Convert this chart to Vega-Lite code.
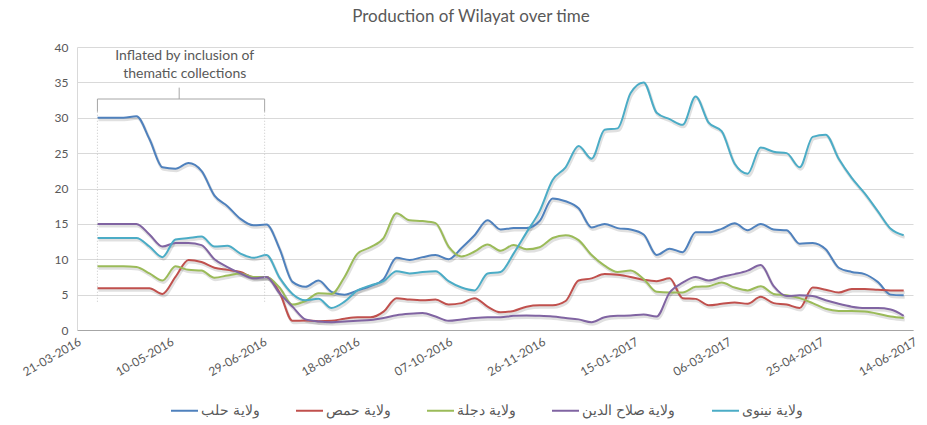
{
  "$schema": "https://vega.github.io/schema/vega-lite/v6.json",
  "width": 836,
  "height": 283,
  "autosize": {"type": "none"},
  "padding": {"left": 77, "top": 47, "right": 14, "bottom": 95},
  "background": "white",
  "title": {
    "text": "Production of Wilayat over time",
    "fontSize": 17,
    "fontWeight": "normal",
    "color": "#595959",
    "font": "Lato",
    "anchor": "middle",
    "frame": "group",
    "offset": 15,
    "dx": -24
  },
  "datasets": {
    "wide": [
      {"d": "2016-04-01", "a": 30, "b": 5.9, "c": 9.0, "p": 15, "n": 13},
      {"d": "2016-04-08", "a": 30, "b": 5.9, "c": 9.0, "p": 15, "n": 13},
      {"d": "2016-04-15", "a": 30, "b": 5.9, "c": 9.0, "p": 15, "n": 13},
      {"d": "2016-04-22", "a": 30.2, "b": 5.9, "c": 8.9, "p": 15, "n": 13},
      {"d": "2016-04-29", "a": 27, "b": 5.9, "c": 8.0, "p": 13.5, "n": 11.8},
      {"d": "2016-05-06", "a": 23, "b": 5.1, "c": 7.0, "p": 11.8, "n": 10.3},
      {"d": "2016-05-13", "a": 22.8, "b": 7.5, "c": 9.0, "p": 12.3, "n": 12.8},
      {"d": "2016-05-20", "a": 23.6, "b": 9.9, "c": 8.5, "p": 12.3, "n": 13.0},
      {"d": "2016-05-27", "a": 22.5, "b": 9.6, "c": 8.4, "p": 12.0, "n": 13.2},
      {"d": "2016-06-03", "a": 19, "b": 8.8, "c": 7.4, "p": 10.0, "n": 11.8},
      {"d": "2016-06-10", "a": 17.5, "b": 8.5, "c": 7.7, "p": 8.9, "n": 11.9},
      {"d": "2016-06-17", "a": 15.7, "b": 8.2, "c": 8.0, "p": 8.0, "n": 10.8},
      {"d": "2016-06-24", "a": 14.8, "b": 7.5, "c": 7.5, "p": 7.3, "n": 10.2},
      {"d": "2016-07-01", "a": 14.9, "b": 7.5, "c": 7.5, "p": 7.5, "n": 10.6},
      {"d": "2016-07-08", "a": 11.5, "b": 5.3, "c": 6.0, "p": 5.2, "n": 7.4},
      {"d": "2016-07-15", "a": 6.8, "b": 1.3, "c": 3.6, "p": 3.3, "n": 5.1},
      {"d": "2016-07-22", "a": 6.1, "b": 1.35, "c": 4.1, "p": 1.5, "n": 4.2},
      {"d": "2016-07-29", "a": 7.0, "b": 1.25, "c": 5.2, "p": 1.2, "n": 4.4},
      {"d": "2016-08-05", "a": 5.4, "b": 1.3, "c": 5.1, "p": 1.1, "n": 3.1},
      {"d": "2016-08-12", "a": 5.0, "b": 1.6, "c": 7.5, "p": 1.2, "n": 4.0},
      {"d": "2016-08-19", "a": 5.6, "b": 1.8, "c": 10.8, "p": 1.3, "n": 5.6},
      {"d": "2016-08-26", "a": 6.2, "b": 1.8, "c": 11.7, "p": 1.4, "n": 6.3},
      {"d": "2016-09-02", "a": 7.2, "b": 2.6, "c": 13.0, "p": 1.7, "n": 6.9},
      {"d": "2016-09-09", "a": 10.2, "b": 4.5, "c": 16.5, "p": 2.1, "n": 8.3},
      {"d": "2016-09-16", "a": 9.9, "b": 4.3, "c": 15.5, "p": 2.3, "n": 8.0},
      {"d": "2016-09-23", "a": 10.3, "b": 4.2, "c": 15.4, "p": 2.4, "n": 8.2},
      {"d": "2016-09-30", "a": 10.6, "b": 4.3, "c": 15.1, "p": 1.9, "n": 8.3},
      {"d": "2016-10-07", "a": 10.0, "b": 3.6, "c": 11.8, "p": 1.3, "n": 6.9},
      {"d": "2016-10-14", "a": 11.6, "b": 3.8, "c": 10.4, "p": 1.5, "n": 6.0},
      {"d": "2016-10-21", "a": 13.4, "b": 4.5, "c": 11.1, "p": 1.7, "n": 5.6},
      {"d": "2016-10-28", "a": 15.5, "b": 3.3, "c": 12.1, "p": 1.8, "n": 8.0},
      {"d": "2016-11-04", "a": 14.2, "b": 2.5, "c": 11.2, "p": 1.8, "n": 8.2},
      {"d": "2016-11-11", "a": 14.4, "b": 2.7, "c": 12.0, "p": 2.0, "n": 10.8},
      {"d": "2016-11-18", "a": 14.4, "b": 3.3, "c": 11.4, "p": 2.05, "n": 13.8},
      {"d": "2016-11-25", "a": 15.4, "b": 3.5, "c": 11.7, "p": 2.0, "n": 16.8},
      {"d": "2016-12-02", "a": 18.6, "b": 3.5, "c": 13.0, "p": 1.9, "n": 21.2},
      {"d": "2016-12-09", "a": 18.2, "b": 4.1, "c": 13.4, "p": 1.7, "n": 23.0},
      {"d": "2016-12-16", "a": 17.2, "b": 7.0, "c": 12.7, "p": 1.5, "n": 26.0},
      {"d": "2016-12-23", "a": 14.5, "b": 7.3, "c": 10.6, "p": 1.1, "n": 24.2},
      {"d": "2016-12-30", "a": 15.0, "b": 7.9, "c": 9.1, "p": 1.8, "n": 28.3},
      {"d": "2017-01-06", "a": 14.4, "b": 7.8, "c": 8.2, "p": 2.0, "n": 28.5},
      {"d": "2017-01-13", "a": 14.2, "b": 7.5, "c": 8.4, "p": 2.05, "n": 33.5},
      {"d": "2017-01-20", "a": 13.5, "b": 7.1, "c": 7.2, "p": 2.2, "n": 35.0},
      {"d": "2017-01-27", "a": 10.6, "b": 6.9, "c": 5.4, "p": 1.9, "n": 30.7},
      {"d": "2017-02-03", "a": 11.5, "b": 7.3, "c": 5.3, "p": 5.3, "n": 29.8},
      {"d": "2017-02-10", "a": 11.0, "b": 4.5, "c": 5.3, "p": 6.7, "n": 29.0},
      {"d": "2017-02-17", "a": 13.8, "b": 4.4, "c": 6.1, "p": 7.5, "n": 33.0},
      {"d": "2017-02-24", "a": 13.8, "b": 3.5, "c": 6.2, "p": 7.0, "n": 29.3},
      {"d": "2017-03-03", "a": 14.3, "b": 3.7, "c": 6.7, "p": 7.5, "n": 28.1},
      {"d": "2017-03-10", "a": 15.1, "b": 3.9, "c": 6.0, "p": 7.9, "n": 23.5},
      {"d": "2017-03-17", "a": 14.1, "b": 3.7, "c": 5.6, "p": 8.4, "n": 22.1},
      {"d": "2017-03-24", "a": 15.0, "b": 4.7, "c": 6.2, "p": 9.2, "n": 25.8},
      {"d": "2017-03-31", "a": 14.2, "b": 3.8, "c": 5.1, "p": 6.2, "n": 25.2},
      {"d": "2017-04-07", "a": 14.1, "b": 3.6, "c": 4.9, "p": 4.8, "n": 25.0},
      {"d": "2017-04-14", "a": 12.2, "b": 3.1, "c": 4.5, "p": 4.9, "n": 23.0},
      {"d": "2017-04-21", "a": 12.3, "b": 6.0, "c": 3.8, "p": 4.8, "n": 27.3},
      {"d": "2017-04-28", "a": 11.4, "b": 5.7, "c": 3.0, "p": 4.2, "n": 27.6},
      {"d": "2017-05-05", "a": 8.8, "b": 5.3, "c": 2.7, "p": 3.7, "n": 24.2},
      {"d": "2017-05-12", "a": 8.2, "b": 5.8, "c": 2.7, "p": 3.3, "n": 21.5},
      {"d": "2017-05-19", "a": 7.9, "b": 5.8, "c": 2.6, "p": 3.1, "n": 19.3},
      {"d": "2017-05-26", "a": 6.8, "b": 5.7, "c": 2.3, "p": 3.1, "n": 16.8},
      {"d": "2017-06-02", "a": 5.0, "b": 5.6, "c": 1.9, "p": 2.9, "n": 14.3},
      {"d": "2017-06-09", "a": 4.9, "b": 5.6, "c": 1.7, "p": 2.0, "n": 13.4}
    ],
    "names": [
      {"k": "a", "s": "ولاية حلب"},
      {"k": "b", "s": "ولاية حمص"},
      {"k": "c", "s": "ولاية دجلة"},
      {"k": "p", "s": "ولاية صلاح الدين"},
      {"k": "n", "s": "ولاية نينوى"}
    ],
    "bracket": [
      {"x": "2016-04-01", "x2": "2016-06-30", "y": 32.65, "y2": 32.65},
      {"x": "2016-04-01", "x2": "2016-04-01", "y": 32.65, "y2": 30.85},
      {"x": "2016-06-30", "x2": "2016-06-30", "y": 32.65, "y2": 30.85},
      {"x": "2016-05-15", "x2": "2016-05-15", "y": 32.65, "y2": 34.26}
    ],
    "dotted": [
      {"x": "2016-04-01", "y": 30.85, "y2": 3.76},
      {"x": "2016-06-30", "y": 30.85, "y2": 3.76}
    ],
    "note": [
      {"x": "2016-05-18", "y": 38.13, "t": "Inflated by inclusion of"},
      {"x": "2016-05-18", "y": 35.63, "t": "thematic collections"}
    ]
  },
  "encoding": {
    "x": {
      "field": "d",
      "type": "temporal",
      "scale": {"type": "utc", "domain": [{"year": 2016, "month": 3, "date": 21, "utc": true}, {"year": 2017, "month": 6, "date": 14, "utc": true}]},
      "axis": {
        "title": null,
        "values": [
          {"year": 2016, "month": 3, "date": 21, "utc": true},
          {"year": 2016, "month": 5, "date": 10, "utc": true},
          {"year": 2016, "month": 6, "date": 29, "utc": true},
          {"year": 2016, "month": 8, "date": 18, "utc": true},
          {"year": 2016, "month": 10, "date": 7, "utc": true},
          {"year": 2016, "month": 11, "date": 26, "utc": true},
          {"year": 2017, "month": 1, "date": 15, "utc": true},
          {"year": 2017, "month": 3, "date": 6, "utc": true},
          {"year": 2017, "month": 4, "date": 25, "utc": true},
          {"year": 2017, "month": 6, "date": 14, "utc": true}
        ],
        "format": "%d-%m-%Y",
        "labelAngle": -30,
        "labelAlign": "right",
        "labelBaseline": "top",
        "labelPadding": 6,
        "ticks": false,
        "grid": false,
        "domainColor": "#a6a6a6",
        "labelFlush": false,
        "labelOverlap": false
      }
    },
    "y": {
      "field": "v",
      "type": "quantitative",
      "scale": {"domain": [0, 40]},
      "axis": {
        "title": null,
        "values": [0, 5, 10, 15, 20, 25, 30, 35, 40],
        "ticks": false,
        "grid": true,
        "gridColor": "#d9d9d9",
        "domainColor": "#d9d9d9",
        "labelPadding": 9,
        "labelOverlap": false
      }
    }
  },
  "layer": [
    {
      "data": {"name": "wide"},
      "transform": [
        {"fold": ["a", "b", "c", "p", "n"], "as": ["k", "v"]},
        {"lookup": "k", "from": {"data": {"name": "names"}, "key": "k", "fields": ["s"]}}
      ],
      "mark": {"type": "line", "interpolate": "monotone", "stroke": "#000000", "strokeOpacity": 0.12, "strokeWidth": 3, "yOffset": 2, "xOffset": 1},
      "encoding": {
        "detail": {"field": "s", "type": "nominal"}
      }
    },
    {
      "data": {"name": "wide"},
      "transform": [
        {"fold": ["a", "b", "c", "p", "n"], "as": ["k", "v"]},
        {"lookup": "k", "from": {"data": {"name": "names"}, "key": "k", "fields": ["s"]}}
      ],
      "mark": {"type": "line", "interpolate": "monotone", "strokeWidth": 2},
      "encoding": {
        "color": {
          "field": "s",
          "type": "nominal",
          "scale": {
            "domain": ["ولاية حلب", "ولاية حمص", "ولاية دجلة", "ولاية صلاح الدين", "ولاية نينوى"],
            "range": ["#4F81BD", "#C0504D", "#9BBB59", "#8064A2", "#4BACC6"]
          },
          "legend": {
            "title": null,
            "orient": "none",
            "legendX": 93,
            "legendY": 349,
            "direction": "horizontal",
            "symbolType": "stroke",
            "symbolSize": 729,
            "symbolStrokeWidth": 2,
            "labelFontSize": 14,
            "labelColor": "#595959",
            "labelOffset": 2,
            "columnPadding": 32
          }
        }
      }
    },
    {
      "data": {"name": "dotted"},
      "mark": {"type": "rule", "color": "#c8c8c8", "strokeDash": [1, 2], "strokeWidth": 1},
      "encoding": {
        "x": {"field": "x", "type": "temporal"},
        "y": {"field": "y", "type": "quantitative"},
        "y2": {"field": "y2"}
      }
    },
    {
      "data": {"name": "bracket"},
      "mark": {"type": "rule", "color": "#a6a6a6", "strokeWidth": 1},
      "encoding": {
        "x": {"field": "x", "type": "temporal"},
        "x2": {"field": "x2"},
        "y": {"field": "y", "type": "quantitative"},
        "y2": {"field": "y2"}
      }
    },
    {
      "data": {"name": "note"},
      "mark": {"type": "text", "align": "center", "baseline": "alphabetic", "fontSize": 14, "color": "#595959", "font": "Lato"},
      "encoding": {
        "x": {"field": "x", "type": "temporal"},
        "y": {"field": "y", "type": "quantitative"},
        "text": {"field": "t"}
      }
    }
  ],
  "config": {
    "view": {"stroke": null},
    "font": "Lato",
    "axis": {"labelColor": "#595959", "labelFontSize": 12, "labelFont": "Lato"},
    "legend": {"labelFont": "Lato"}
  }
}
